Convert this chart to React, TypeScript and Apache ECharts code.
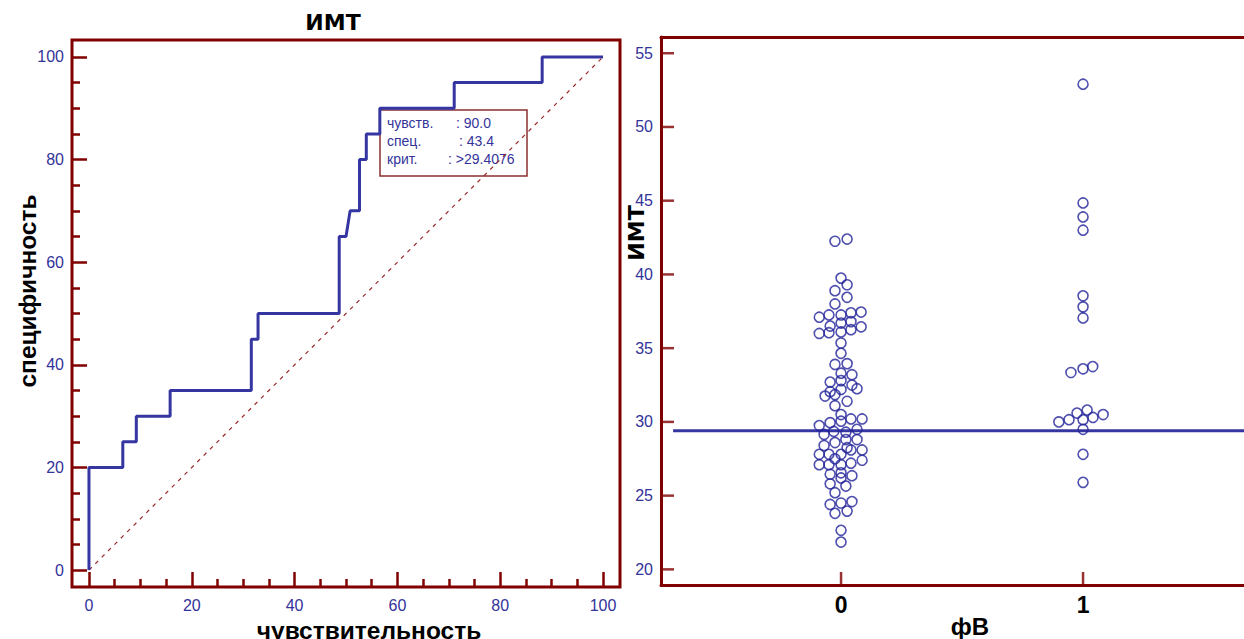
import React, { useEffect, useRef } from "react";
import * as echarts from "echarts";

// ROC curve vertices (x: чувствительность axis, y: специфичность axis)
const rocX = [0, 0, 6.58, 6.58, 9.21, 9.21, 15.79, 15.79, 31.58, 31.58, 32.89, 32.89, 48.68, 48.68, 50.0, 50.8, 52.63, 52.63, 53.95, 53.95, 56.58, 56.58, 71.05, 71.05, 88.16, 88.16, 100];
const rocY = [0, 20, 20, 25, 25, 30, 30, 35, 35, 45, 45, 50, 50, 65, 65, 70, 70, 80, 80, 85, 85, 90, 90, 95, 95, 100, 100];
const diagX = [0, 100];
const diagY = [0, 100];

const rocTicksMajor = [0, 20, 40, 60, 80, 100];
const rocTicksMinor = [5, 10, 15, 25, 30, 35, 45, 50, 55, 65, 70, 75, 85, 90, 95];

// Scatter: ИМТ by фВ group
const group0Values = [
  42.25, 42.4, 39.75, 39.3, 38.9, 38.45, 38.0, 37.1, 37.25, 37.25, 37.4, 37.45, 36.5, 36.7, 36.8,
  36.0, 36.05, 36.1, 36.25, 36.45, 35.35, 34.65, 33.9, 33.95, 33.3, 33.2, 32.7, 32.8, 32.5, 32.25,
  32.05, 32.2, 31.75, 31.85, 31.4, 31.1, 30.5, 30.05, 30.2, 30.2, 29.75, 29.95, 29.5,
  29.35, 29.15, 29.3, 28.4, 28.6, 28.8, 28.8, 27.8, 27.8, 27.8, 28.1, 28.1, 27.1, 27.1, 27.1,
  27.2, 27.4, 26.45, 26.55, 26.35, 25.8, 26.2, 25.65, 25.2, 24.4, 24.5, 24.6, 23.8, 23.95,
  22.65, 21.85, 28.25, 27.5,
];
const group0Jitter = [
  -0.025, 0.025, 0, 0.025, -0.025, 0.025, -0.025, -0.09, -0.05, 0, 0.041, 0.083, -0.045, 0, 0.041,
  -0.09, -0.05, 0, 0.041, 0.083, 0, 0, -0.025, 0.025, 0, 0.045, -0.045, 0, 0.045, 0.066,
  -0.045, 0, -0.066, -0.025, 0.025, -0.025, 0, 0, 0.041, 0.087, -0.09, -0.045, 0.066,
  -0.03, -0.07, 0.02, -0.07, -0.025, 0.02, 0.066, -0.09, -0.05, 0, 0.041, 0.087, -0.09, -0.05, 0,
  0.041, 0.087, -0.045, 0, 0.045, -0.045, 0, 0.02, -0.025, -0.045, 0, 0.045, -0.025, 0.025,
  0, 0, 0.025, -0.025,
];
const group1Values = [52.9, 44.85, 43.9, 43.0, 38.55, 37.8, 37.05, 33.35, 33.6, 33.75, 30.0, 30.15, 30.6, 30.8, 30.3, 30.5, 30.15, 29.5, 27.8, 25.9];
const group1Jitter = [0, 0, 0, 0, 0, 0, 0, -0.05, 0, 0.04, -0.1, -0.058, -0.025, 0.017, 0.041, 0.083, 0, 0, 0, 0];

const bmiTicks = [20, 25, 30, 35, 40, 45, 50, 55];
const groupTicks = [0, 1];
const criterion = 29.4076;
const criterionSpan = [-0.694, 1.8];

const MAROON = "#800000";
const NAVY = "#33339a";
const LINE_BLUE = "#3636a2";
const POINT_BLUE = "#23239a";
const SANS = "Liberation Sans, Arial, sans-serif";

export default function App() {
  const ref = useRef<HTMLDivElement>(null);

  useEffect(() => {
    if (!ref.current) return;
    const chart = echarts.init(ref.current, null, { renderer: "svg" });

    const rocData = rocX.map((x, i) => [x, rocY[i]]);
    const diagData = diagX.map((x, i) => [x, diagY[i]]);
    const g0 = group0Values.map((v, i) => [0 + group0Jitter[i], v]);
    const g1 = group1Values.map((v, i) => [1 + group1Jitter[i], v]);
    const critData = criterionSpan.map((x) => [x, criterion]);

    const tickLabelFont = { color: NAVY, fontSize: 16, fontFamily: SANS };
    const rightXMin = -0.744;
    const rightXMax = -0.744 + 583 / 242;
    const rightYMin = 18.94;
    const rightYMax = 56.1;
    const hiddenLine = { show: false, onZero: false };
    const frameLine = { show: true, onZero: false, lineStyle: { color: MAROON, width: 3 } };
    const tickStyle = { color: MAROON, width: 2.5 };

    // tick marks of the right panel, positioned through the axes' scales
    const yTickMarks = bmiTicks.map((v) => [rightXMin, v]);
    const xTickMarks = groupTicks.map((v) => [v, rightYMin]);

    chart.setOption({
      animation: false,
      backgroundColor: "#ffffff",
      grid: [
        { left: 72, top: 40, width: 548, height: 547, show: true, borderColor: MAROON, borderWidth: 3, backgroundColor: "transparent", containLabel: false, outerBoundsMode: "none" },
        { left: 661, top: 37, width: 583, height: 548, show: false, containLabel: false, outerBoundsMode: "none" },
      ],
      xAxis: [
        {
          gridIndex: 0, type: "value", min: -3.3, max: 103.3, position: "bottom",
          axisLine: hiddenLine, splitLine: { show: false },
          axisTick: { show: true, inside: true, length: 15, customValues: rocTicksMajor, lineStyle: tickStyle },
          axisLabel: { show: true, customValues: rocTicksMajor, margin: 10, ...tickLabelFont },
        },
        {
          gridIndex: 0, type: "value", min: -3.3, max: 103.3, position: "bottom",
          axisLine: hiddenLine, splitLine: { show: false },
          axisTick: { show: true, inside: true, length: 8, customValues: rocTicksMinor, lineStyle: tickStyle },
          axisLabel: { show: false },
        },
        {
          gridIndex: 1, type: "value", min: rightXMin, max: rightXMax, position: "bottom",
          axisLine: hiddenLine, splitLine: { show: false },
          axisTick: { show: false },
          axisLabel: { show: true, customValues: groupTicks, margin: 8, color: "#000", fontSize: 23, fontWeight: "bold", fontFamily: SANS },
        },
        {
          gridIndex: 1, type: "value", min: rightXMin, max: rightXMax, position: "top",
          axisLine: frameLine, splitLine: { show: false },
          axisTick: { show: false }, axisLabel: { show: false },
        },
        {
          gridIndex: 1, type: "value", min: rightXMin, max: rightXMax, position: "bottom",
          axisLine: frameLine, splitLine: { show: false },
          axisTick: { show: false }, axisLabel: { show: false },
        },
      ],
      yAxis: [
        {
          gridIndex: 0, type: "value", min: -3.3, max: 103.3, position: "left",
          axisLine: hiddenLine, splitLine: { show: false },
          axisTick: { show: true, inside: true, length: 15, customValues: rocTicksMajor, lineStyle: tickStyle },
          axisLabel: { show: true, customValues: rocTicksMajor, margin: 8, ...tickLabelFont },
        },
        {
          gridIndex: 0, type: "value", min: -3.3, max: 103.3, position: "left",
          axisLine: hiddenLine, splitLine: { show: false },
          axisTick: { show: true, inside: true, length: 8, customValues: rocTicksMinor, lineStyle: tickStyle },
          axisLabel: { show: false },
        },
        {
          gridIndex: 1, type: "value", min: rightYMin, max: rightYMax, position: "left",
          axisLine: hiddenLine, splitLine: { show: false },
          axisTick: { show: false },
          axisLabel: { show: true, customValues: bmiTicks, margin: 8, color: NAVY, fontSize: 16, fontFamily: "Liberation Sans Narrow, Arial Narrow, Liberation Sans, sans-serif" },
        },
        {
          gridIndex: 1, type: "value", min: rightYMin, max: rightYMax, position: "left",
          axisLine: frameLine, splitLine: { show: false },
          axisTick: { show: false }, axisLabel: { show: false },
        },
      ],
      series: [
        {
          type: "line", xAxisIndex: 0, yAxisIndex: 0, data: diagData, symbol: "none",
          lineStyle: { color: "#9b2a2a", width: 1.2, type: [4, 5] }, z: 2,
        },
        {
          type: "line", xAxisIndex: 0, yAxisIndex: 0, data: rocData, symbol: "none",
          lineStyle: { color: LINE_BLUE, width: 3 }, z: 3,
        },
        {
          type: "line", xAxisIndex: 2, yAxisIndex: 2, data: critData, symbol: "none",
          lineStyle: { color: LINE_BLUE, width: 3 }, z: 2,
        },
        {
          type: "scatter", xAxisIndex: 2, yAxisIndex: 2, data: g0, symbol: "circle", symbolSize: 10,
          itemStyle: { color: "rgba(0,0,0,0)", borderColor: POINT_BLUE, borderWidth: 1.6 }, z: 3,
        },
        {
          type: "scatter", xAxisIndex: 2, yAxisIndex: 2, data: g1, symbol: "circle", symbolSize: 10,
          itemStyle: { color: "rgba(0,0,0,0)", borderColor: POINT_BLUE, borderWidth: 1.6 }, z: 3,
        },
        {
          type: "scatter", xAxisIndex: 2, yAxisIndex: 2, data: yTickMarks, symbol: "rect",
          symbolSize: [13, 2.5], symbolOffset: [6.5, 0], clip: false, silent: true,
          itemStyle: { color: MAROON }, z: 4,
        },
        {
          type: "scatter", xAxisIndex: 2, yAxisIndex: 2, data: xTickMarks, symbol: "rect",
          symbolSize: [2.5, 13], symbolOffset: [0, -6.5], clip: false, silent: true,
          itemStyle: { color: MAROON }, z: 4,
        },
      ],
      graphic: [
        { type: "text", x: 333, y: 22, style: { text: "ИМТ", font: "bold 22px DejaVu Sans, sans-serif", fill: "#000", align: "center", verticalAlign: "middle" } },
        { type: "text", x: 27, y: 291, rotation: Math.PI / 2, style: { text: "специфичность", font: `bold 24.5px ${SANS}`, fill: "#000", align: "center", verticalAlign: "middle" } },
        { type: "text", x: 369, y: 630, style: { text: "чувствительность", font: `bold 24.5px ${SANS}`, fill: "#000", align: "center", verticalAlign: "middle" } },
        { type: "text", x: 636, y: 233, rotation: Math.PI / 2, style: { text: "ИМТ", font: "bold 22px DejaVu Sans, sans-serif", fill: "#000", align: "center", verticalAlign: "middle" } },
        { type: "text", x: 970, y: 626, style: { text: "фВ", font: `bold 24px ${SANS}`, fill: "#000", align: "center", verticalAlign: "middle" } },
        {
          type: "group", x: 380, y: 110, z: 100,
          children: [
            { type: "rect", shape: { x: 0, y: 0, width: 147, height: 66 }, style: { fill: "#fff", stroke: "#8b3030", lineWidth: 1.5 } },
            { type: "text", x: 7, y: 13, style: { text: "чувств.", font: `14px ${SANS}`, fill: NAVY, verticalAlign: "middle" } },
            { type: "text", x: 76, y: 13, style: { text: ": 90.0", font: `14px ${SANS}`, fill: NAVY, verticalAlign: "middle" } },
            { type: "text", x: 7, y: 31, style: { text: "спец.", font: `14px ${SANS}`, fill: NAVY, verticalAlign: "middle" } },
            { type: "text", x: 79, y: 31, style: { text: ": 43.4", font: `14px ${SANS}`, fill: NAVY, verticalAlign: "middle" } },
            { type: "text", x: 7, y: 49, style: { text: "крит.", font: `14px ${SANS}`, fill: NAVY, verticalAlign: "middle" } },
            { type: "text", x: 68, y: 49, style: { text: ": >29.4076", font: `14px ${SANS}`, fill: NAVY, verticalAlign: "middle" } },
          ],
        },
      ],
    });

    return () => chart.dispose();
  }, []);

  return <div ref={ref} style={{ position: "fixed", left: 0, top: 0, width: 1244, height: 639 }} />;
}
